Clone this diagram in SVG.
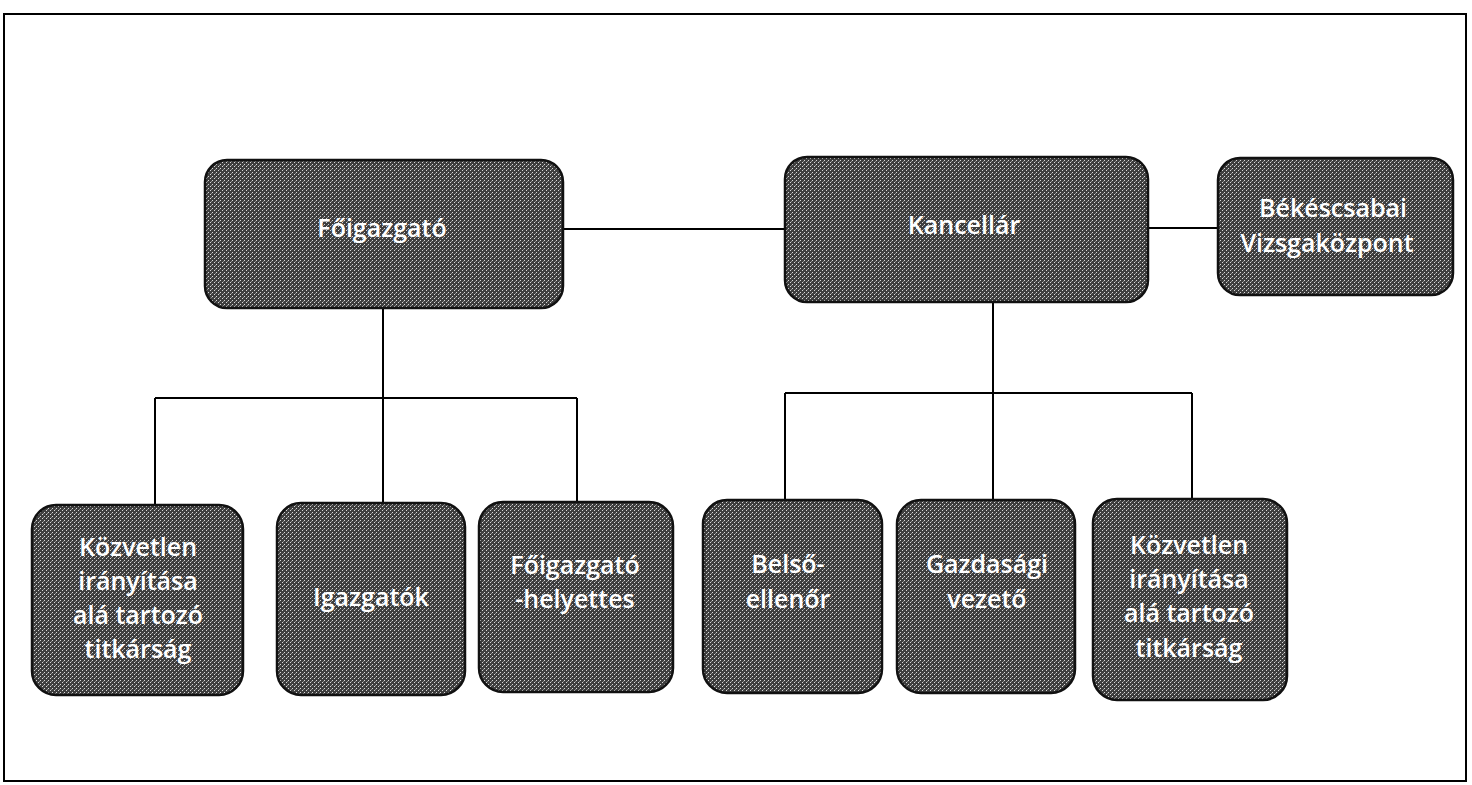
<svg xmlns="http://www.w3.org/2000/svg" width="1472" height="785" viewBox="0 0 1472 785">
<defs>
<pattern id="ht" width="4" height="4" patternUnits="userSpaceOnUse">
<rect width="4" height="4" fill="#3e3e3e"/>
<rect x="0" y="0" width="1" height="1" fill="#d8d8d8"/>
<rect x="2" y="2" width="1" height="1" fill="#d8d8d8"/>
<rect x="3" y="1" width="1" height="1" fill="#8a8a8a"/>
</pattern>
</defs>
<style>
.box{fill:url(#ht);stroke:#111;stroke-width:2.5}
.t{fill:#fff;font-family:"Open Sans","Liberation Sans",sans-serif;font-size:25px;font-weight:600;text-anchor:middle}
.c{stroke:#000;stroke-width:2;fill:none}
</style>
<rect width="1472" height="785" fill="#fff"/>
<rect x="4" y="14" width="1462" height="767" fill="none" stroke="#000" stroke-width="2"/>
<g id="connectors">
<line class="c" x1="563" y1="229" x2="785" y2="229"/>
<line class="c" x1="1148" y1="228" x2="1218" y2="228"/>
<line class="c" x1="383" y1="308" x2="383" y2="503"/>
<line class="c" x1="155" y1="398" x2="577" y2="398"/>
<line class="c" x1="155" y1="398" x2="155" y2="505"/>
<line class="c" x1="577" y1="398" x2="577" y2="503"/>
<line class="c" x1="993" y1="302" x2="993" y2="500"/>
<line class="c" x1="785" y1="393" x2="1192" y2="393"/>
<line class="c" x1="785" y1="393" x2="785" y2="500"/>
<line class="c" x1="1192" y1="393" x2="1192" y2="499"/>
</g>
<g id="foigazgato">
<rect class="box" x="205" y="160" width="358" height="148" rx="22"/>
<text class="t" x="382" y="237">Főigazgató</text>
</g>
<g id="kancellar">
<rect class="box" x="785" y="157" width="363" height="145" rx="22"/>
<text class="t" x="964" y="234">Kancellár</text>
</g>
<g id="bekescsabai">
<rect class="box" x="1218" y="158" width="235" height="137" rx="22"/>
<text class="t" x="1333" y="217">Békéscsabai</text>
<text class="t" x="1327" y="252">Vizsgaközpont</text>
</g>
<g id="titkarsag1">
<rect class="box" x="32" y="505" width="211" height="190" rx="24"/>
<text class="t" x="138" y="556">Közvetlen</text>
<text class="t" x="138" y="590">irányítása</text>
<text class="t" x="138" y="624">alá tartozó</text>
<text class="t" x="138" y="658">titkárság</text>
</g>
<g id="igazgatok">
<rect class="box" x="277" y="503" width="188" height="192" rx="24"/>
<text class="t" x="371" y="606">Igazgatók</text>
</g>
<g id="helyettes">
<rect class="box" x="479" y="502" width="194" height="190" rx="24"/>
<text class="t" x="575" y="574">Főigazgató</text>
<text class="t" x="575" y="608">-helyettes</text>
</g>
<g id="belsoellenor">
<rect class="box" x="703" y="500" width="179" height="193" rx="24"/>
<text class="t" x="788" y="573">Belső-</text>
<text class="t" x="788" y="608">ellenőr</text>
</g>
<g id="gazdasagi">
<rect class="box" x="897" y="500" width="178" height="193" rx="24"/>
<text class="t" x="987" y="573">Gazdasági</text>
<text class="t" x="987" y="608">vezető</text>
</g>
<g id="titkarsag2">
<rect class="box" x="1093" y="499" width="194" height="201" rx="24"/>
<text class="t" x="1189" y="554">Közvetlen</text>
<text class="t" x="1189" y="588">irányítása</text>
<text class="t" x="1189" y="622">alá tartozó</text>
<text class="t" x="1189" y="657">titkárság</text>
</g>
</svg>
